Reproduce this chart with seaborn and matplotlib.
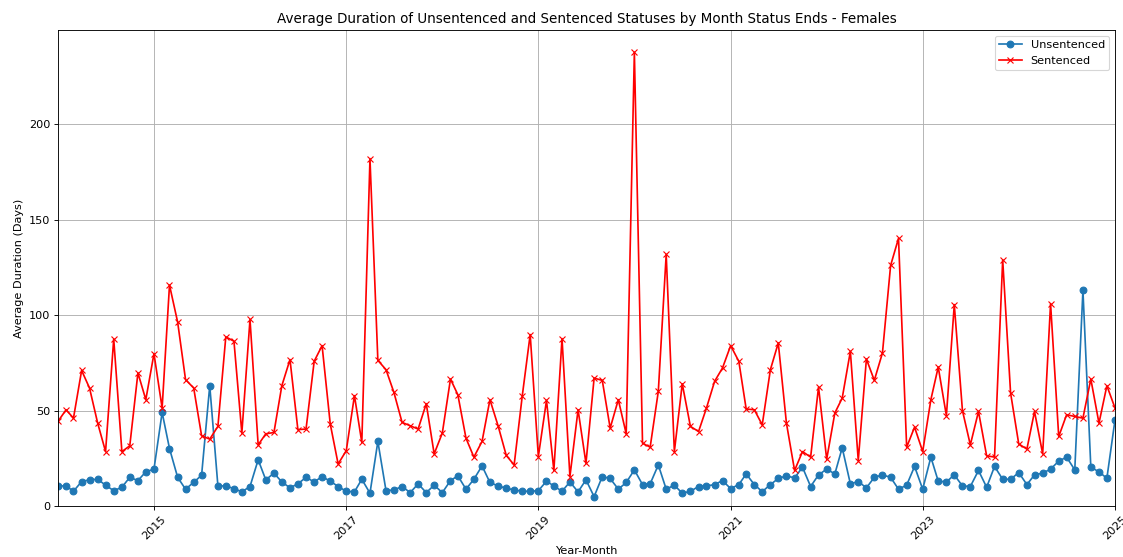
import matplotlib
matplotlib.use("Agg")
import matplotlib.dates as mdates
import matplotlib.pyplot as plt
import pandas as pd
import seaborn as sns

# monthly averages, Jan 2014 .. Jan 2025
months = pd.date_range("2014-01-01", periods=133, freq="MS")
tick_years = ["2015", "2017", "2019", "2021", "2023", "2025"]

unsentenced = [
    10.5, 10.5, 7.7, 12.8, 13.7, 14.0, 10.9, 8.0, 9.8, 15.0, 13.3, 17.9,
    19.3, 49.0, 30.1, 15.0, 8.8, 12.4, 16.1, 63.0, 10.5, 10.5, 9.1, 7.4,
    10.2, 24.2, 13.7, 17.2, 12.6, 9.5, 11.6, 15.0, 12.6, 15.4, 13.0, 10.2,
    7.7, 7.4, 14.0, 6.7, 33.8, 8.0, 8.4, 10.2, 7.0, 11.6, 7.0, 10.9,
    7.0, 13.3, 15.8, 8.8, 14.0, 21.0, 12.3, 10.5, 9.3, 8.4, 7.7, 7.7,
    8.0, 13.0, 10.5, 7.7, 12.6, 7.4, 13.7, 4.9, 15.4, 14.4, 8.8, 12.3,
    18.9, 11.2, 11.6, 21.5, 8.8, 10.9, 6.7, 7.7, 10.2, 10.5, 11.2, 13.3,
    9.1, 11.2, 16.8, 11.2, 7.5, 11.2, 14.4, 15.8, 14.7, 20.3, 10.2, 16.3,
    19.3, 16.8, 30.5, 11.6, 12.8, 9.5, 15.0, 16.3, 15.0, 8.8, 10.9, 20.7,
    8.8, 25.6, 13.0, 12.6, 16.3, 10.5, 10.2, 18.6, 9.8, 20.7, 14.0, 14.0,
    17.5, 11.2, 16.3, 17.2, 19.3, 23.5, 25.6, 18.9, 113.0, 20.3, 17.9, 14.5,
    45.2,
]

sentenced = [
    44.3, 50.4, 46.0, 71.0, 61.8, 43.4, 28.5, 87.5, 28.5, 31.5, 69.7, 55.7,
    79.8, 51.3, 115.7, 96.3, 66.2, 61.8, 36.8, 35.0, 41.7, 88.6, 86.3, 38.2,
    97.7, 32.0, 37.8, 38.5, 63.0, 76.7, 40.0, 40.3, 75.8, 84.0, 43.0, 22.0,
    29.0, 57.8, 33.3, 182.0, 76.3, 71.4, 59.5, 43.8, 42.0, 40.3, 53.6, 27.3,
    38.2, 66.5, 58.3, 35.5, 25.6, 33.8, 55.7, 42.0, 26.5, 21.5, 57.8, 89.8,
    25.9, 55.3, 18.6, 87.7, 15.4, 50.4, 22.4, 67.0, 65.8, 40.8, 55.7, 37.8,
    237.7, 32.9, 30.8, 60.0, 131.8, 28.5, 64.0, 41.7, 39.0, 51.3, 65.3, 72.3,
    84.0, 75.8, 50.8, 50.4, 42.5, 71.4, 85.4, 43.4, 18.6, 28.5, 25.6, 62.3,
    24.5, 48.7, 56.5, 81.0, 23.8, 77.0, 65.8, 80.2, 126.0, 140.2, 30.8, 41.3,
    28.5, 55.7, 72.8, 47.3, 105.5, 50.0, 32.0, 49.5, 26.3, 25.6, 129.0, 59.2,
    32.5, 29.8, 49.5, 27.3, 106.0, 36.4, 47.8, 46.9, 46.0, 66.5, 43.4, 63.0,
    51.3,
]

# drawn at a larger size and scaled down, like the original export
fig = plt.figure(figsize=(1123 / 81, 557 / 81), dpi=81)
ax = fig.add_axes([0.0516, 0.0916, 0.9413, 0.8545])

sns.lineplot(
    x=months, y=unsentenced, ax=ax, color="#1f77b4", marker="o",
    markersize=6, markeredgecolor="#1f77b4", markeredgewidth=1,
    linewidth=1.5, label="Unsentenced",
)
sns.lineplot(
    x=months, y=sentenced, ax=ax, color="red", marker="x",
    markersize=6, markeredgecolor="red", markeredgewidth=1,
    linewidth=1.5, label="Sentenced",
)

ax.set_xlim(months[0], months[-1])
ax.set_ylim(bottom=0)
ax.set_xticks(pd.to_datetime(tick_years))
ax.xaxis.set_major_formatter(mdates.DateFormatter("%Y"))
ax.tick_params(axis="x", rotation=45)
ax.grid(True)
ax.set_title("Average Duration of Unsentenced and Sentenced Statuses by Month Status Ends - Females")
ax.set_xlabel("Year-Month")
ax.set_ylabel("Average Duration (Days)")
ax.legend(loc="upper right")

fig.savefig("out.png", dpi=81)
